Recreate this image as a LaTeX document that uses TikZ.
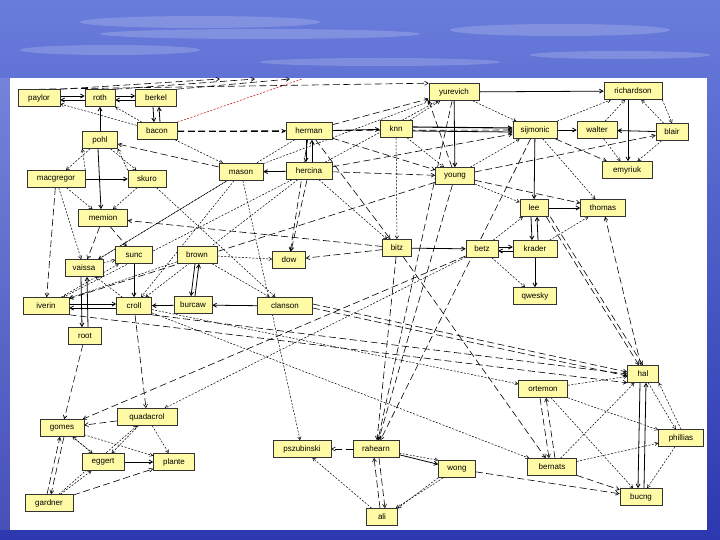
\documentclass[tikz,border=0pt]{standalone}
\usepackage{fontspec}
\setmainfont{Liberation Sans}
\usetikzlibrary{arrows.meta}
\pgfdeclarelayer{back}
\pgfdeclarelayer{edges}
\pgfsetlayers{back,edges,main}
\definecolor{skytop}{RGB}{105,125,220}
\definecolor{skymid}{RGB}{70,90,205}
\definecolor{skybot}{RGB}{45,55,175}
\tikzstyle{person} = [rectangle, draw=black!80, fill=yellow!35, line width=0.6pt,
                      minimum height=17pt, inner xsep=3pt, inner ysep=0pt,
                      text centered, font=\fontsize{8}{9}\selectfont]
\tikzstyle{sol}    = [-{Straight Barb[length=3.5pt,width=4pt]}, line width=0.8pt]
\tikzstyle{dsh}    = [-{Straight Barb[length=3.5pt,width=4pt]}, line width=0.6pt,
                      dash pattern=on 7pt off 3.5pt]
\tikzstyle{dtd}    = [-{Straight Barb[length=3pt,width=3.5pt]}, line width=0.5pt,
                      dash pattern=on 2pt off 1.5pt]
\tikzstyle{cloud}  = [white, opacity=0.18]
\begin{document}
\begin{tikzpicture}[x=1pt, y=-1pt]

  \useasboundingbox (0,0) rectangle (720,540);

  % background and panel
  \begin{pgfonlayer}{back}
    \shade[top color=skytop, middle color=skymid, bottom color=skybot]
      (0,0) rectangle (720,540);
    \fill[cloud] (200,22) ellipse (120 and 6);
    \fill[cloud] (260,34) ellipse (160 and 5);
    \fill[cloud] (110,50) ellipse (90 and 5);
    \fill[cloud] (560,30) ellipse (110 and 6);
    \fill[cloud] (620,55) ellipse (90 and 4);
    \fill[cloud] (380,62) ellipse (120 and 4);
    \fill[white, opacity=0.12] (0,78) rectangle (10,530);
    \fill[white] (10,78) rectangle (707,530);
  \end{pgfonlayer}

  % people
  \node[person, minimum width=42pt] (paylor)     at (39,98)   {paylor};
  \node[person, minimum width=30pt] (roth)       at (100,98)  {roth};
  \node[person, minimum width=41pt] (berkel)     at (156,98)  {berkel};
  \node[person, minimum width=40pt] (bacon)      at (157,131) {bacon};
  \node[person, minimum width=35pt] (pohl)       at (100,140) {pohl};
  \node[person, minimum width=58pt] (macgregor)  at (56,179)  {macgregor};
  \node[person, minimum width=38pt] (skuro)      at (147,179) {skuro};
  \node[person, minimum width=49pt] (memion)     at (103,218) {memion};
  \node[person, minimum width=44pt] (mason)      at (241,172) {mason};
  \node[person, minimum width=46pt] (herman)     at (309,131) {herman};
  \node[person, minimum width=46pt] (hercina)    at (309,171) {hercina};
  \node[person, minimum width=32pt] (knn)        at (396,129) {knn};
  \node[person, minimum width=50pt] (yurevich)   at (454,92)  {yurevich};
  \node[person, minimum width=39pt] (young)      at (455,176) {young};
  \node[person, minimum width=44pt] (sijmonic)   at (535,130) {sijmonic};
  \node[person, minimum width=40pt] (walter)     at (597,130) {walter};
  \node[person, minimum width=32pt] (blair)      at (672,132) {blair};
  \node[person, minimum width=58pt] (richardson) at (633,91)  {richardson};
  \node[person, minimum width=50pt] (emyriuk)    at (627,170) {emyriuk};
  \node[person, minimum width=28pt] (lee)        at (534,208) {lee};
  \node[person, minimum width=45pt] (thomas)     at (603,208) {thomas};
  \node[person, minimum width=32pt] (betz)       at (482,249) {betz};
  \node[person, minimum width=44pt] (krader)     at (535,249) {krader};
  \node[person, minimum width=43pt] (qwesky)     at (535,296) {qwesky};
  \node[person, minimum width=29pt] (bitz)       at (397,248) {bitz};
  \node[person, minimum width=33pt] (dow)        at (289,260) {dow};
  \node[person, minimum width=55pt] (clanson)    at (285,306) {clanson};
  \node[person, minimum width=38pt] (burcaw)     at (193,305) {burcaw};
  \node[person, minimum width=40pt] (brown)      at (197,255) {brown};
  \node[person, minimum width=37pt] (sunc)       at (134,255) {sunc};
  \node[person, minimum width=38pt] (vaissa)     at (84,268)  {vaissa};
  \node[person, minimum width=46pt] (iverin)     at (46,306)  {iverin};
  \node[person, minimum width=35pt] (croll)      at (134,306) {croll};
  \node[person, minimum width=33pt] (root)       at (85,336)  {root};
  \node[person, minimum width=31pt] (hal)        at (643,374) {hal};
  \node[person, minimum width=49pt] (ortemon)    at (543,389) {ortemon};
  \node[person, minimum width=45pt] (phillias)   at (681,438) {phillias};
  \node[person, minimum width=49pt] (bernats)    at (552,467) {bernats};
  \node[person, minimum width=42pt] (bucng)      at (641,497) {bucng};
  \node[person, minimum width=60pt] (quadacrol)  at (147,417) {quadacrol};
  \node[person, minimum width=44pt] (gomes)      at (62,428)  {gomes};
  \node[person, minimum width=42pt] (eggert)     at (103,462) {eggert};
  \node[person, minimum width=41pt] (plante)     at (174,462) {plante};
  \node[person, minimum width=48pt] (gardner)    at (49,503)  {gardner};
  \node[person, minimum width=58pt] (pszubinski) at (302,449) {pszubinski};
  \node[person, minimum width=46pt] (rahearn)    at (376,449) {rahearn};
  \node[person, minimum width=37pt] (wong)       at (457,469) {wong};
  \node[person, minimum width=31pt] (ali)        at (382,517) {ali};

  \coordinate (out1) at (220,79);
  \coordinate (out2) at (255,79);
  \coordinate (out3) at (290,79);
  \coordinate (outr) at (302,79);

  \begin{pgfonlayer}{edges}
  % solid links
  \draw[sol] ([yshift=2pt]paylor.east) -- ([yshift=2pt]roth.west);
  \draw[sol] ([yshift=-2pt]roth.west) -- ([yshift=-2pt]paylor.east);
  \draw[sol] ([yshift=2pt]roth.east) -- ([yshift=2pt]berkel.west);
  \draw[sol] ([yshift=-2pt]berkel.west) -- ([yshift=-2pt]roth.east);
  \draw[sol] ([xshift=-3pt]berkel.south) -- ([xshift=-3pt]bacon.north);
  \draw[sol] ([xshift=3pt]bacon.north) -- ([xshift=3pt]berkel.south);
  \draw[sol] (pohl) -- (roth);
  \draw[sol] (macgregor) -- (skuro);
  \draw[sol] ([xshift=-2pt]pohl.south) -- ([xshift=-2pt]memion.north);
  \draw[sol] ([xshift=-3pt]herman.south) -- ([xshift=-3pt]hercina.north);
  \draw[sol] ([xshift=3pt]hercina.north) -- ([xshift=3pt]herman.south);
  \draw[sol] (herman) -- (knn);
  \draw[sol] (hercina) -- (mason);
  \draw[sol, line width=1.1pt] ([yshift=2pt]knn.east) -- ([yshift=2pt]sijmonic.west);
  \draw[sol] ([yshift=-2pt]knn.east) -- ([yshift=-2pt]sijmonic.west);
  \draw[sol] (yurevich) -- (richardson);
  \draw[sol] (yurevich) -- (young);
  \draw[sol] (sijmonic) -- (walter);
  \draw[sol] (blair) -- (walter);
  \draw[sol] (sijmonic) -- (lee);
  \draw[sol] (lee) -- (thomas);
  \draw[sol] ([xshift=-3pt]lee.south) -- ([xshift=-3pt]krader.north);
  \draw[sol] ([xshift=3pt]krader.north) -- ([xshift=3pt]lee.south);
  \draw[sol] ([yshift=2pt]betz.east) -- ([yshift=2pt]krader.west);
  \draw[sol] ([yshift=-2pt]krader.west) -- ([yshift=-2pt]betz.east);
  \draw[sol] (bitz) -- (betz);
  \draw[sol] (krader) -- (qwesky);
  \draw[sol] ([xshift=-5pt]richardson.south) -- ([xshift=1pt]emyriuk.north);
  \draw[sol] ([xshift=-3pt]hal.south) -- ([xshift=-3pt]bucng.north);
  \draw[sol] ([xshift=3pt]bucng.north) -- ([xshift=3pt]hal.south);
  \draw[sol] ([xshift=-3pt]vaissa.south) -- ([xshift=-3pt]root.north);
  \draw[sol] ([xshift=3pt]root.north) -- ([xshift=3pt]vaissa.south);
  \draw[sol] ([yshift=2pt]iverin.east) -- ([yshift=2pt]croll.west);
  \draw[sol] ([yshift=-2pt]croll.west) -- ([yshift=-2pt]iverin.east);
  \draw[sol] (sunc) -- (croll);
  \draw[sol] ([xshift=-2pt]brown.south) -- ([xshift=-2pt]burcaw.north);
  \draw[sol] ([xshift=2pt]burcaw.north) -- ([xshift=2pt]brown.south);
  \draw[sol] (burcaw) -- (croll);
  \draw[sol] (clanson) -- (burcaw);
  \draw[sol] (eggert) -- (plante);
  \draw[sol] (rahearn) -- (wong);

  % long dashed links
  \draw[dsh] (paylor.north east) -- (out1);
  \draw[dsh] (roth.north east) -- (out2);
  \draw[dsh] (berkel.north east) -- (out3);
  \draw[dsh] (paylor.north) -- (yurevich.north west);
  \draw[dsh] (bacon) -- (herman);
  \draw[dsh] (bacon.east) -- (sijmonic.west);
  \draw[dsh] (mason) -- (pohl);
  \draw[dsh] (macgregor) -- (iverin);
  \draw[dsh] (memion) -- (vaissa);
  \draw[dsh] (memion) -- (sunc);
  \draw[dsh] (bitz) -- (memion);
  \draw[dsh] (hercina) -- (dow);
  \draw[dsh] (herman) -- (dow);
  \draw[dsh] (bitz) -- (dow);
  \draw[dsh] (herman) -- (yurevich);
  \draw[dsh] (herman) -- (young);
  \draw[dsh] (hercina) -- (young);
  \draw[dsh] (herman) -- (bitz);
  \draw[dsh] (hercina) -- (sijmonic);
  \draw[dsh] (young) -- (yurevich.south west);
  \draw[dsh] (sijmonic) -- (emyriuk);
  \draw[dsh] (young) -- (blair);
  \draw[dsh] (young) -- (thomas);
  \draw[dsh] (hal) -- (thomas);
  \draw[dsh] ([xshift=-2pt]lee.south east) -- ([xshift=-4pt]hal.north);
  \draw[dsh] ([xshift=2pt]lee.south east) -- (hal.north);
  \draw[dsh] ([yshift=2pt]clanson.east) -- ([yshift=2pt]hal.west);
  \draw[dsh] ([yshift=-2pt]clanson.east) -- ([yshift=-2pt]hal.west);
  \draw[dsh] (croll.south east) -- (hal.west);
  \draw[dsh] (iverin.south east) -- (hal.south west);
  \draw[dsh] (young) -- (rahearn);
  \draw[dsh] (sijmonic) -- (rahearn);
  \draw[dsh] (bitz) -- (rahearn);
  \draw[dsh] (yurevich) -- (rahearn);
  \draw[dsh] (rahearn) -- (pszubinski);
  \draw[dsh] ([xshift=-2pt]ali.north) -- ([xshift=-2pt]rahearn.south);
  \draw[dsh] ([xshift=3pt]rahearn.south) -- ([xshift=3pt]ali.north);
  \draw[dsh] (wong) -- (bucng);
  \draw[dsh] (bitz) -- (bernats);
  \draw[dsh] ([xshift=-3pt]ortemon.south) -- ([xshift=-3pt]bernats.north);
  \draw[dsh] ([xshift=3pt]bernats.north) -- ([xshift=3pt]ortemon.south);
  \draw[dsh] (bernats) -- (bucng);
  \draw[dsh] (quadacrol) -- (gomes);
  \draw[dsh] ([xshift=-2pt]gardner.north) -- ([xshift=-2pt]gomes.south);
  \draw[dsh] ([xshift=2pt]gomes.south) -- ([xshift=2pt]gardner.north);
  \draw[dsh] (gardner) -- (plante);
  \draw[dsh] (root) -- (gomes);
  \draw[dsh] (croll) -- (quadacrol);
  \draw[dsh] (betz) -- (gomes);
  \draw[dsh] (young) -- (iverin);

  % dotted links
  \draw[dtd, -, red!75!black] (bacon.north east) -- (outr);
  \draw[dtd] (bacon) -- (paylor);
  \draw[dtd] (bacon) -- (roth);
  \draw[dtd] (bacon) -- (mason);
  \draw[dtd] (pohl) -- (macgregor);
  \draw[dtd] (macgregor.north east) -- (pohl.south west);
  \draw[dtd] (pohl) -- (skuro);
  \draw[dtd] (skuro.north west) -- (pohl.south east);
  \draw[dtd] (macgregor) -- (memion);
  \draw[dtd] (skuro) -- (memion);
  \draw[dtd] (macgregor) -- (vaissa);
  \draw[dtd] (skuro) -- (clanson);
  \draw[dtd] (mason) -- (vaissa);
  \draw[dtd] (mason) -- (croll);
  \draw[dtd] (mason) -- (yurevich);
  \draw[dtd] (mason) -- (pszubinski);
  \draw[dtd] (hercina) -- (croll);
  \draw[dtd] (hercina) -- (iverin);
  \draw[dtd] (herman) -- (vaissa);
  \draw[dtd] (hercina) -- (yurevich);
  \draw[dtd] (hercina) -- (bitz);
  \draw[dtd] (knn) -- (young);
  \draw[dtd] (knn) -- (bitz);
  \draw[dtd] (knn) -- (yurevich);
  \draw[dtd] (yurevich) -- (sijmonic);
  \draw[dtd] (young) -- (sijmonic);
  \draw[dtd] (young) -- (lee);
  \draw[dtd] (sijmonic) -- (thomas);
  \draw[dtd] (sijmonic) -- (richardson);
  \draw[dtd] (walter) -- (richardson);
  \draw[dtd] (blair) -- (richardson);
  \draw[dtd] (richardson.south east) -- (blair.north);
  \draw[dtd] (walter) -- (emyriuk);
  \draw[dtd] (blair) -- (emyriuk);
  \draw[dtd] (betz) -- (lee);
  \draw[dtd] (krader) -- (thomas);
  \draw[dtd] (betz) -- (qwesky);
  \draw[dtd] (brown) -- (dow);
  \draw[dtd] (brown) -- (clanson);
  \draw[dtd] (brown) -- (iverin);
  \draw[dtd] (vaissa) -- (sunc);
  \draw[dtd] (iverin) -- (sunc);
  \draw[dtd] (croll) -- (vaissa);
  \draw[dtd] (croll) -- (ortemon);
  \draw[dtd] (croll) -- (bernats);
  \draw[dtd] (betz) -- (quadacrol);
  \draw[dtd] (ali) -- (pszubinski);
  \draw[dtd] (rahearn) -- (wong.north west);
  \draw[dtd] (wong) -- (ali);
  \draw[dtd] (wong.south west) -- (ali.north east);
  \draw[dtd] (ortemon) -- (hal);
  \draw[dtd] (ortemon) -- (phillias);
  \draw[dtd] (ortemon) -- (bucng);
  \draw[dtd] (bernats) -- (hal);
  \draw[dtd] (bernats) -- (phillias);
  \draw[dtd] (hal) -- (phillias);
  \draw[dtd] (phillias.north) -- (hal.south east);
  \draw[dtd] (phillias) -- (bucng);
  \draw[dtd] (gomes) -- (eggert);
  \draw[dtd] (eggert) -- (gomes);
  \draw[dtd] (gardner) -- (eggert);
  \draw[dtd] (quadacrol) -- (eggert);
  \draw[dtd] (quadacrol) -- (plante);
  \draw[dtd] (gomes) -- (plante);
  \draw[dtd] (gardner) -- (quadacrol);
  \end{pgfonlayer}

\end{tikzpicture}
\end{document}
